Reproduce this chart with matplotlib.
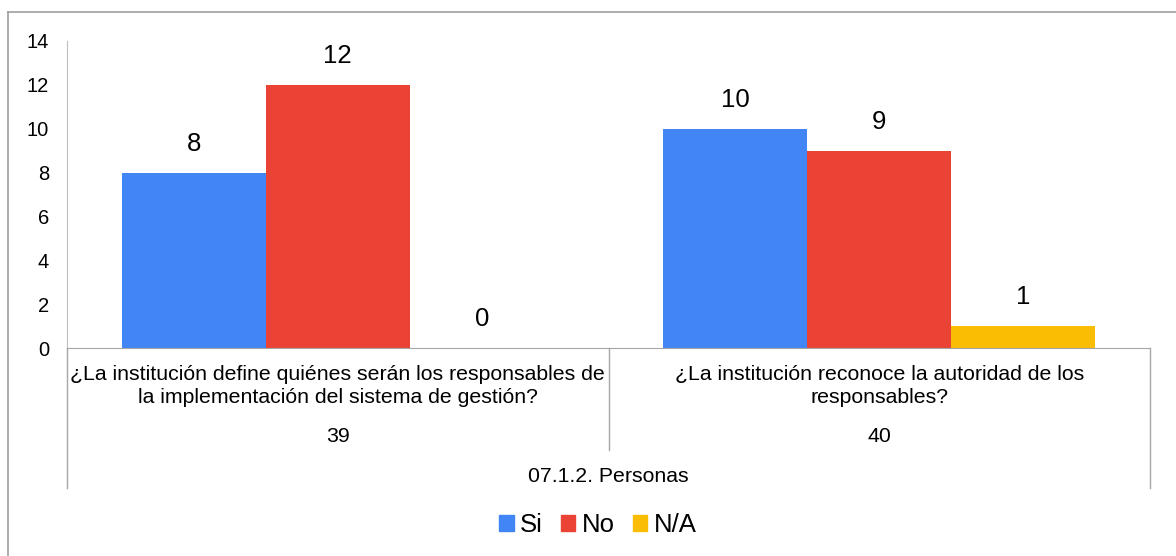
import numpy as np
import matplotlib.pyplot as plt
from matplotlib.patches import Patch
from matplotlib.lines import Line2D

plt.rcParams['font.family'] = ['Liberation Sans', 'DejaVu Sans']

# data
series = ['Si', 'No', 'N/A']
colors = ['#4285F4', '#EA4335', '#FBBC04']
questions = ['¿La institución define quiénes serán los responsables de\nla implementación del sistema de gestión?',
             '¿La institución reconoce la autoridad de los\nresponsables?']
codes = ['39', '40']
group_label = '07.1.2. Personas'
si = [8, 10]
no = [12, 9]
na = [0, 1]

W, H = 1176, 556
fig = plt.figure(figsize=(W / 100, H / 100), dpi=100)

def fx(px):
    return px / W

def fy(py):
    return 1 - py / H

ax = fig.add_axes([fx(67), fy(348), fx(1150) - fx(67), fy(41) - fy(348)])

x = np.arange(len(questions))
bw = 0.266
for i, (vals, c) in enumerate(zip([si, no, na], colors)):
    bars = ax.bar(x + (i - 1) * bw, vals, bw, color=c, label=series[i])
    for b, v in zip(bars, vals):
        ax.annotate(str(v), (b.get_x() + b.get_width() / 2, v), xytext=(0, 12),
                    textcoords='offset points', ha='center', va='bottom', fontsize=18.5)

ax.set_xlim(-0.5, len(questions) - 0.5)
ax.set_ylim(0, 14)
ax.set_yticks(range(0, 15, 2))
ax.tick_params(axis='y', length=0, pad=13, labelsize=14.5)
ax.set_xticks([])
for s in ['top', 'right']:
    ax.spines[s].set_visible(False)
ax.spines['left'].set_color('#BFBFBF')
ax.spines['bottom'].set_color('#A6A6A6')

# multi-level category axis
axh = 348 - 41
def ay(py):
    return (348 - py) / axh

tr = ax.get_xaxis_transform()
for xi, q, code in zip(x, questions, codes):
    ax.text(xi, ay(386), q, transform=tr, ha='center', va='center', fontsize=15.3,
            linespacing=1.3)
    ax.text(xi, ay(437), code, transform=tr, ha='center', va='center', fontsize=15.3)
ax.text(np.mean(x), ay(476), group_label, transform=tr, ha='center', va='center', fontsize=15.3)

edges = np.arange(len(questions) + 1) - 0.5
for e in edges:
    bottom = 488 if e in (edges[0], edges[-1]) else 450
    ax.plot([e, e], [0, ay(bottom)], transform=tr, color='#A6A6A6', lw=1, clip_on=False)

# chart border (only top and left visible)
fig.add_artist(Line2D([fx(8), 1], [fy(12), fy(12)], color='#A0A0A0', lw=1.2))
fig.add_artist(Line2D([fx(8), fx(8)], [fy(12), 0], color='#A0A0A0', lw=1.2))

handles = [Patch(color=c, label=s) for c, s in zip(colors, series)]
fig.legend(handles=handles, loc='center', bbox_to_anchor=(fx(598), fy(525)), ncol=3,
           frameon=False, fontsize=18.5, handlelength=0.56, handleheight=0.56,
           handletextpad=0.25, columnspacing=0.7)

fig.savefig('out.png', dpi=100)
